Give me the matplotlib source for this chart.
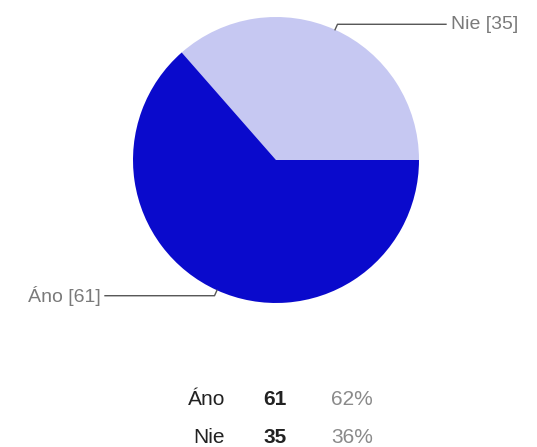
import numpy as np
import matplotlib.pyplot as plt

# Data
labels = ['Áno', 'Nie']
counts = [61, 35]
percents = ['62%', '36%']
colors = ['#0a0acc', '#c6c8f2']

W, H = 537, 447
fig = plt.figure(figsize=(W / 100, H / 100), dpi=100)
ax = fig.add_axes([0, 0, 1, 1])
ax.set_xlim(0, W)
ax.set_ylim(0, H)
ax.axis('off')

cx, cy, r = 276, H - 160, 143

# Nie drawn first from 0 deg counterclockwise, then Áno
wedges, _ = ax.pie(counts[::-1], colors=colors[::-1], startangle=0, counterclock=True,
                   center=(cx, cy), radius=r, wedgeprops={'linewidth': 0})
ax.set_xlim(0, W)
ax.set_ylim(0, H)
ax.set_aspect('equal')

# Leader lines and labels
grey = '#7a7a7a'
for w, lab, n in zip(wedges, labels[::-1], counts[::-1]):
    ang = np.deg2rad((w.theta1 + w.theta2) / 2)
    x0, y0 = cx + r * np.cos(ang), cy + r * np.sin(ang)
    x1, y1 = cx + (r + 6) * np.cos(ang), cy + (r + 6) * np.sin(ang)
    if np.cos(ang) >= 0:
        x2 = 446
        ax.plot([x0, x1, x2], [y0, y1, y1], color='#555555', lw=1)
        ax.text(x2 + 5, y1, f'{lab} [{n}]', color=grey, fontsize=14,
                family='Liberation Sans', ha='left', va='center')
    else:
        x2 = 105
        ax.plot([x0, x1, x2], [y0, y1, y1], color='#555555', lw=1)
        ax.text(x2 - 4, y1, f'{lab} [{n}]', color=grey, fontsize=14,
                family='Liberation Sans', ha='right', va='center')

# Summary table
rows_y = [H - 405, H - 443]
for y, lab, n, p in zip(rows_y, labels, counts, percents):
    ax.text(225, y, lab, color='#222222', fontsize=15, family='Liberation Sans',
            ha='right', va='baseline')
    ax.text(275, y, str(n), color='#222222', fontsize=15, family='Liberation Sans',
            fontweight='bold', ha='center', va='baseline')
    ax.text(331, y, p, color='#8a8a8a', fontsize=15, family='Liberation Sans',
            ha='left', va='baseline')

fig.savefig('out.png', dpi=100)
